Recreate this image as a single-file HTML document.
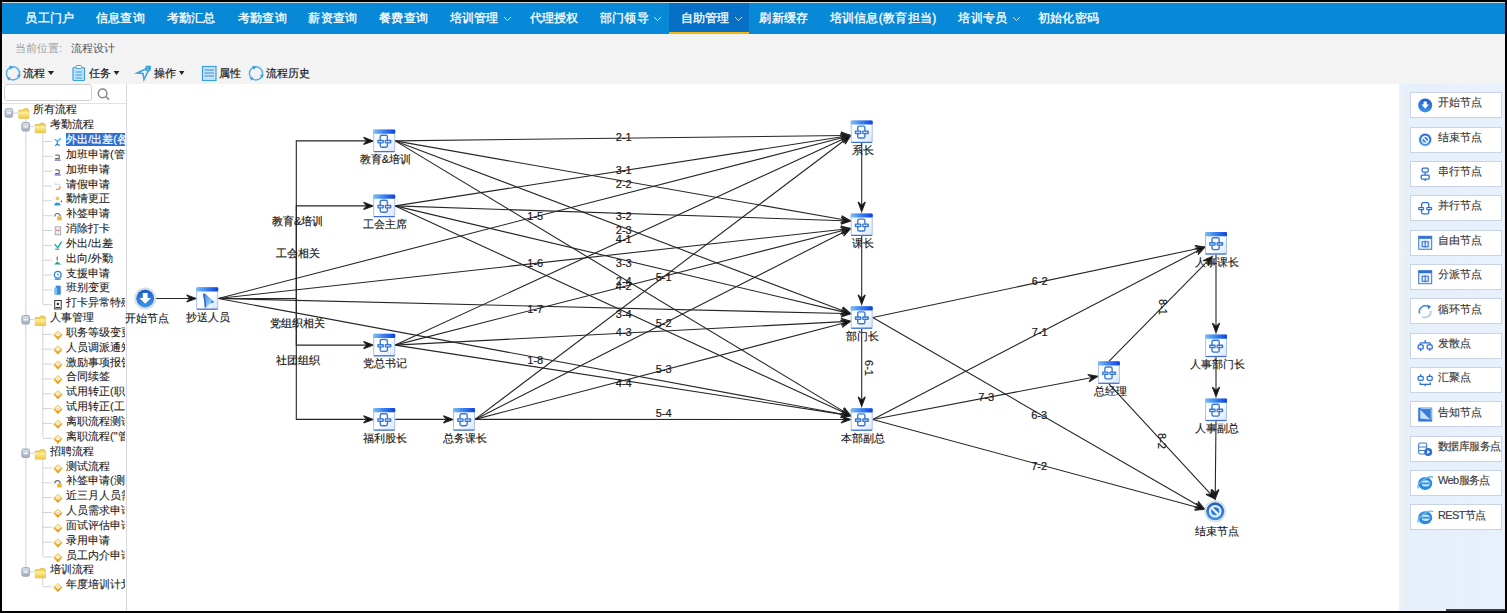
<!DOCTYPE html>
<html><head><meta charset="utf-8"><style>
*{margin:0;padding:0;box-sizing:border-box}
html,body{width:1507px;height:613px;overflow:hidden;background:#000}
body{position:relative;font-family:"Liberation Sans",sans-serif}
.abs{position:absolute}
#nav{position:absolute;left:2px;top:2px;width:1503px;height:32px;background:#0889d7;border-top:1px solid #cfdde6}
#act{position:absolute;left:669px;top:3px;width:80px;height:31px;background:#0670c6;border-bottom:2px solid #f5b80a}
.nv{position:absolute;top:11px;font-size:12px;line-height:14px;color:#fff;-webkit-text-stroke:0.3px #fff;letter-spacing:0.3px;white-space:nowrap}
.chev{position:absolute;top:15.5px}
#bar{position:absolute;left:2px;top:34px;width:1503px;height:50px;background:#f3f3f3}
.bc{position:absolute;top:42px;font-size:11px;line-height:13px;white-space:nowrap}
.tb{position:absolute;top:67px;font-size:11px;line-height:13px;color:#1a1a1a;-webkit-text-stroke:0.2px #1a1a1a;white-space:nowrap}
#tree{position:absolute;left:2px;top:84px;width:125px;height:527px;background:#fff;border-right:1px solid #d6d6e6;overflow:hidden}
#canvas{position:absolute;left:127px;top:84px;width:1272px;height:527px;background:#fff}
#pal{position:absolute;left:1399px;top:84px;width:106px;height:527px;background:linear-gradient(90deg,#eff1f5 0px,#e6f0fb 6px,#e7f1fc 100%)}
.pb{position:absolute;left:1410px;width:92px;height:26px;background:#fff;border:1px solid #c9d3e1}
.pt{position:absolute;left:1438px;font-size:11px;line-height:14px;color:#3a3a3a;-webkit-text-stroke:0.15px #3a3a3a;white-space:nowrap}
.tr{position:absolute;font-size:11px;line-height:13px;color:#222;-webkit-text-stroke:0.1px #222;white-space:nowrap;padding:0 1px}
.tr.sel{background:#2e6fd2;color:#fff;-webkit-text-stroke:0.2px #fff;width:70px;left:65.8px !important;padding-left:0.5px;height:12.5px;line-height:12.5px}
.nl{position:absolute;width:120px;text-align:center;font-size:11px;line-height:14px;color:#1a1a1a;-webkit-text-stroke:0.15px #1a1a1a;white-space:nowrap}
.el{position:absolute;width:80px;text-align:center;font-size:11px;line-height:14px;color:#1a1a1a;-webkit-text-stroke:0.2px #1a1a1a;white-space:nowrap}
.el.rot{transform:rotate(90deg)}
svg.full{position:absolute;left:0;top:0}
</style></head><body>
<div id="nav"></div>
<div id="act"></div>
<div class="nv" style="left:25.3px">员工门户</div><div class="nv" style="left:95.9px">信息查询</div><div class="nv" style="left:166.5px">考勤汇总</div><div class="nv" style="left:237.8px">考勤查询</div><div class="nv" style="left:308.4px">薪资查询</div><div class="nv" style="left:379.0px">餐费查询</div><div class="nv" style="left:449.6px">培训管理</div><svg class="chev" style="left:502.9px" width="9" height="6" viewBox="0 0 9 6"><path d="M1,1 L4.5,4.6 L8,1" fill="none" stroke="#cfe2f4" stroke-width="1"/></svg><div class="nv" style="left:529.5px">代理授权</div><div class="nv" style="left:599.7px">部门领导</div><svg class="chev" style="left:653.0px" width="9" height="6" viewBox="0 0 9 6"><path d="M1,1 L4.5,4.6 L8,1" fill="none" stroke="#cfe2f4" stroke-width="1"/></svg><div class="nv" style="left:680.6px">自助管理</div><svg class="chev" style="left:733.9px" width="9" height="6" viewBox="0 0 9 6"><path d="M1,1 L4.5,4.6 L8,1" fill="none" stroke="#cfe2f4" stroke-width="1"/></svg><div class="nv" style="left:759.4px">刷新缓存</div><div class="nv" style="left:829.5px">培训信息(教育担当)</div><div class="nv" style="left:958.4px">培训专员</div><svg class="chev" style="left:1011.7px" width="9" height="6" viewBox="0 0 9 6"><path d="M1,1 L4.5,4.6 L8,1" fill="none" stroke="#cfe2f4" stroke-width="1"/></svg><div class="nv" style="left:1037.7px">初始化密码</div>
<div id="bar"></div>
<div class="bc" style="left:14.9px;color:#a0a0a0">当前位置:</div>
<div class="bc" style="left:70.6px;color:#555">流程设计</div>

<div class="tb" style="left:22.8px">流程</div>
<div class="tb" style="left:88.6px">任务</div>
<div class="tb" style="left:153.9px">操作</div>
<div class="tb" style="left:218.9px">属性</div>
<div class="tb" style="left:266px">流程历史</div>

<div id="tree"></div>
<div id="canvas"></div>
<div id="pal"></div>
<div class="abs" style="left:4.4px;top:84.4px;width:88px;height:16.6px;border:1px solid #cfcfcf;border-radius:3px;background:#fff"></div>
<div class="abs" style="left:2px;top:103px;width:124px;height:1px;background:#e2e2e2"></div>
<div class="pb" style="top:92.1px"></div><div class="pt" style="top:95.3px">开始节点</div><div class="pb" style="top:126.5px"></div><div class="pt" style="top:129.7px">结束节点</div><div class="pb" style="top:160.8px"></div><div class="pt" style="top:164.0px">串行节点</div><div class="pb" style="top:195.2px"></div><div class="pt" style="top:198.4px">并行节点</div><div class="pb" style="top:229.5px"></div><div class="pt" style="top:232.7px">自由节点</div><div class="pb" style="top:263.9px"></div><div class="pt" style="top:267.1px">分派节点</div><div class="pb" style="top:298.3px"></div><div class="pt" style="top:301.5px">循环节点</div><div class="pb" style="top:332.6px"></div><div class="pt" style="top:335.8px">发散点</div><div class="pb" style="top:367.0px"></div><div class="pt" style="top:370.2px">汇聚点</div><div class="pb" style="top:401.3px"></div><div class="pt" style="top:404.5px">告知节点</div><div class="pb" style="top:435.7px"></div><div class="pt" style="top:438.9px;letter-spacing:-0.6px">数据库服务点</div><div class="pb" style="top:470.1px"></div><div class="pt" style="top:473.3px;letter-spacing:-0.6px">Web服务点</div><div class="pb" style="top:504.4px"></div><div class="pt" style="top:507.6px;letter-spacing:-0.6px">REST节点</div>
<div class="abs" style="left:1446px;top:609px;width:59px;height:2px;background:#3c3c44"></div>
<svg class="full" width="1507" height="613" viewBox="0 0 1507 613">
<defs>
<linearGradient id="gi" x1="0" y1="0" x2="1" y2="1"><stop offset="0" stop-color="#f4fbff"/><stop offset="0.5" stop-color="#ffffff"/><stop offset="1" stop-color="#d6e4fa"/></linearGradient>
<linearGradient id="gt" x1="0" y1="0" x2="1" y2="0"><stop offset="0" stop-color="#7cc0f6"/><stop offset="0.5" stop-color="#3a7ef0"/><stop offset="1" stop-color="#0a40e6"/></linearGradient>
<linearGradient id="gb" x1="0" y1="0" x2="0" y2="1"><stop offset="0" stop-color="#1b5fc8"/><stop offset="1" stop-color="#3d94ea"/></linearGradient>
<linearGradient id="gm2" x1="0" y1="0" x2="1" y2="1"><stop offset="0" stop-color="#3a86e6"/><stop offset="1" stop-color="#c4e6ff"/></linearGradient>
<linearGradient id="gd" x1="0" y1="0" x2="0" y2="1"><stop offset="0" stop-color="#f8d860"/><stop offset="1" stop-color="#e89010"/></linearGradient>
<linearGradient id="gm" x1="0" y1="0" x2="0" y2="1"><stop offset="0" stop-color="#dfe6ee"/><stop offset="1" stop-color="#9eacbb"/></linearGradient>
<linearGradient id="gf" x1="0" y1="0" x2="0" y2="1"><stop offset="0" stop-color="#fff2a8"/><stop offset="1" stop-color="#f0c840"/></linearGradient>
</defs>
<g stroke="#cfd3da" stroke-width="1"><line x1="25.9" y1="116.0" x2="25.9" y2="570.8"/><line x1="42.8" y1="131.6" x2="42.8" y2="303.7"/><line x1="29.5" y1="126.6" x2="34" y2="126.6"/><line x1="42.8" y1="141.5" x2="52" y2="141.5"/><line x1="42.8" y1="156.3" x2="52" y2="156.3"/><line x1="42.8" y1="171.2" x2="52" y2="171.2"/><line x1="42.8" y1="186.0" x2="52" y2="186.0"/><line x1="42.8" y1="200.8" x2="52" y2="200.8"/><line x1="42.8" y1="215.7" x2="52" y2="215.7"/><line x1="42.8" y1="230.5" x2="52" y2="230.5"/><line x1="42.8" y1="245.4" x2="52" y2="245.4"/><line x1="42.8" y1="260.2" x2="52" y2="260.2"/><line x1="42.8" y1="275.0" x2="52" y2="275.0"/><line x1="42.8" y1="289.9" x2="52" y2="289.9"/><line x1="42.8" y1="304.7" x2="52" y2="304.7"/><line x1="42.8" y1="324.6" x2="42.8" y2="437.3"/><line x1="29.5" y1="319.6" x2="34" y2="319.6"/><line x1="42.8" y1="334.4" x2="52" y2="334.4"/><line x1="42.8" y1="349.2" x2="52" y2="349.2"/><line x1="42.8" y1="364.1" x2="52" y2="364.1"/><line x1="42.8" y1="378.9" x2="52" y2="378.9"/><line x1="42.8" y1="393.8" x2="52" y2="393.8"/><line x1="42.8" y1="408.6" x2="52" y2="408.6"/><line x1="42.8" y1="423.4" x2="52" y2="423.4"/><line x1="42.8" y1="438.3" x2="52" y2="438.3"/><line x1="42.8" y1="458.1" x2="42.8" y2="556.0"/><line x1="29.5" y1="453.1" x2="34" y2="453.1"/><line x1="42.8" y1="468.0" x2="52" y2="468.0"/><line x1="42.8" y1="482.8" x2="52" y2="482.8"/><line x1="42.8" y1="497.6" x2="52" y2="497.6"/><line x1="42.8" y1="512.5" x2="52" y2="512.5"/><line x1="42.8" y1="527.3" x2="52" y2="527.3"/><line x1="42.8" y1="542.2" x2="52" y2="542.2"/><line x1="42.8" y1="557.0" x2="52" y2="557.0"/><line x1="42.8" y1="576.8" x2="42.8" y2="585.7"/><line x1="29.5" y1="571.8" x2="34" y2="571.8"/><line x1="42.8" y1="586.7" x2="52" y2="586.7"/><line x1="12.7" y1="113.0" x2="18" y2="113.0"/></g>
<g transform="translate(4.6,108.2)"><rect x="0.5" y="0.5" width="7.5" height="8.5" rx="1.5" fill="url(#gm)" stroke="#9aa6b4" stroke-width="1"/><line x1="2.2" y1="4.8" x2="6.3" y2="4.8" stroke="#fff" stroke-width="1.2"/></g><g transform="translate(18.4,107.7)"><path d="M0.5,2.5 h4 l1.2,-1.5 h3.5 l0.8,1.5 v0 h0.5 v8 h-10 z" fill="#f2d35a" stroke="#d9b13a" stroke-width="0.7"/><rect x="0.5" y="4" width="10" height="6.5" fill="url(#gf)"/></g><g transform="translate(21.4,122.0)"><rect x="0.5" y="0.5" width="7.5" height="8.5" rx="1.5" fill="url(#gm)" stroke="#9aa6b4" stroke-width="1"/><line x1="2.2" y1="4.8" x2="6.3" y2="4.8" stroke="#fff" stroke-width="1.2"/></g><g transform="translate(34.8,122.1)"><path d="M0.5,2.5 h4 l1.2,-1.5 h3.5 l0.8,1.5 v0 h0.5 v8 h-10 z" fill="#f2d35a" stroke="#d9b13a" stroke-width="0.7"/><rect x="0.5" y="4" width="10" height="6.5" fill="url(#gf)"/></g><g transform="translate(53.2,136.3)"><path d="M1.5,3 l3,2 l3,-3" stroke="#40b8d8" stroke-width="1.3" fill="none"/><path d="M4,5 v4 M2,9.5 l2,-2 l2.5,2" stroke="#2a80c0" stroke-width="1.1" fill="none"/></g><g transform="translate(53.2,151.1)"><path d="M2,4 h4 v3.5 h-4" stroke="#555" stroke-width="1" fill="none"/><path d="M1.5,9 h6" stroke="#7a6ad0" stroke-width="1.3"/></g><g transform="translate(53.2,166.0)"><path d="M2,4 h4 v3.5 h-4" stroke="#555" stroke-width="1" fill="none"/><path d="M1.5,9 h6" stroke="#7a6ad0" stroke-width="1.3"/></g><g transform="translate(53.2,180.8)"><path d="M2,3 l1.5,1 M5,3 l1.5,1" stroke="#7ab8e0" stroke-width="1"/><path d="M3,8.5 C6,9 7.5,7.5 6.5,5.5" stroke="#f08a20" stroke-width="1.3" fill="none"/></g><g transform="translate(53.2,195.6)"><circle cx="4.2" cy="2.8" r="1.8" fill="#f0c060"/><path d="M1,9.8 C1,6 7.4,6 7.4,9.8 Z" fill="#2a9ad8"/><path d="M7,6 l2,-1.5 l-0.5,2.5 z" fill="#e04040"/></g><g transform="translate(53.2,210.5)"><path d="M1.5,6 C1.5,2 7,2 7,6" stroke="#666" stroke-width="1.1" fill="none"/><rect x="4" y="6" width="4.5" height="3.8" fill="#f0b030"/></g><g transform="translate(53.2,225.3)"><rect x="2" y="1.5" width="5.5" height="8" fill="#eee" stroke="#999" stroke-width="0.8"/><path d="M3,5 h3.5" stroke="#e06080" stroke-width="1"/></g><g transform="translate(53.2,240.2)"><path d="M1.5,4 l3,3.5 l4,-6" stroke="#20a8a0" stroke-width="1.4" fill="none"/><path d="M2,9 h4" stroke="#2a70c0" stroke-width="1"/></g><g transform="translate(53.2,255.0)"><path d="M4,1.5 v4" stroke="#555" stroke-width="1"/><path d="M1,9.5 l3,-3 l4,3 z" fill="#20a080"/></g><g transform="translate(53.2,269.8)"><circle cx="4.5" cy="5" r="3.4" fill="none" stroke="#2a80d8" stroke-width="1.3"/><path d="M4.5,3.5 v1.7 h1.4" stroke="#2a80d8" stroke-width="0.9" fill="none"/><path d="M1.5,9.5 h6" stroke="#2a80d8" stroke-width="1"/></g><g transform="translate(53.2,284.7)"><rect x="2.5" y="1" width="5" height="9" fill="#3a88d8"/><rect x="1" y="3" width="3" height="7" fill="#80c0f0"/></g><g transform="translate(53.2,299.5)"><rect x="1.5" y="1" width="6.5" height="8.5" fill="#fff" stroke="#333" stroke-width="1"/><circle cx="4.7" cy="4.5" r="1.3" fill="#333"/><path d="M2.5,8 h4.5" stroke="#333" stroke-width="1"/></g><g transform="translate(21.4,315.0)"><rect x="0.5" y="0.5" width="7.5" height="8.5" rx="1.5" fill="url(#gm)" stroke="#9aa6b4" stroke-width="1"/><line x1="2.2" y1="4.8" x2="6.3" y2="4.8" stroke="#fff" stroke-width="1.2"/></g><g transform="translate(34.8,315.1)"><path d="M0.5,2.5 h4 l1.2,-1.5 h3.5 l0.8,1.5 v0 h0.5 v8 h-10 z" fill="#f2d35a" stroke="#d9b13a" stroke-width="0.7"/><rect x="0.5" y="4" width="10" height="6.5" fill="url(#gf)"/></g><g transform="translate(53.4,330.2)"><path d="M4.5,0.3 L9.2,4.8 L4.5,9.6 L-0.2,4.8 Z" fill="url(#gd)"/><path d="M4.5,1.6 L7.2,4.3 L4.5,6.4 L1.8,4.3 Z" fill="#fffbe8"/><path d="M3.3,3.6 L5.6,3.6 L4.5,5 Z" fill="#9ec8f0"/></g><g transform="translate(53.4,345.0)"><path d="M4.5,0.3 L9.2,4.8 L4.5,9.6 L-0.2,4.8 Z" fill="url(#gd)"/><path d="M4.5,1.6 L7.2,4.3 L4.5,6.4 L1.8,4.3 Z" fill="#fffbe8"/><path d="M3.3,3.6 L5.6,3.6 L4.5,5 Z" fill="#9ec8f0"/></g><g transform="translate(53.4,359.9)"><path d="M4.5,0.3 L9.2,4.8 L4.5,9.6 L-0.2,4.8 Z" fill="url(#gd)"/><path d="M4.5,1.6 L7.2,4.3 L4.5,6.4 L1.8,4.3 Z" fill="#fffbe8"/><path d="M3.3,3.6 L5.6,3.6 L4.5,5 Z" fill="#9ec8f0"/></g><g transform="translate(53.4,374.7)"><path d="M4.5,0.3 L9.2,4.8 L4.5,9.6 L-0.2,4.8 Z" fill="url(#gd)"/><path d="M4.5,1.6 L7.2,4.3 L4.5,6.4 L1.8,4.3 Z" fill="#fffbe8"/><path d="M3.3,3.6 L5.6,3.6 L4.5,5 Z" fill="#9ec8f0"/></g><g transform="translate(53.4,389.6)"><path d="M4.5,0.3 L9.2,4.8 L4.5,9.6 L-0.2,4.8 Z" fill="url(#gd)"/><path d="M4.5,1.6 L7.2,4.3 L4.5,6.4 L1.8,4.3 Z" fill="#fffbe8"/><path d="M3.3,3.6 L5.6,3.6 L4.5,5 Z" fill="#9ec8f0"/></g><g transform="translate(53.4,404.4)"><path d="M4.5,0.3 L9.2,4.8 L4.5,9.6 L-0.2,4.8 Z" fill="url(#gd)"/><path d="M4.5,1.6 L7.2,4.3 L4.5,6.4 L1.8,4.3 Z" fill="#fffbe8"/><path d="M3.3,3.6 L5.6,3.6 L4.5,5 Z" fill="#9ec8f0"/></g><g transform="translate(53.4,419.2)"><path d="M4.5,0.3 L9.2,4.8 L4.5,9.6 L-0.2,4.8 Z" fill="url(#gd)"/><path d="M4.5,1.6 L7.2,4.3 L4.5,6.4 L1.8,4.3 Z" fill="#fffbe8"/><path d="M3.3,3.6 L5.6,3.6 L4.5,5 Z" fill="#9ec8f0"/></g><g transform="translate(53.4,434.1)"><path d="M4.5,0.3 L9.2,4.8 L4.5,9.6 L-0.2,4.8 Z" fill="url(#gd)"/><path d="M4.5,1.6 L7.2,4.3 L4.5,6.4 L1.8,4.3 Z" fill="#fffbe8"/><path d="M3.3,3.6 L5.6,3.6 L4.5,5 Z" fill="#9ec8f0"/></g><g transform="translate(21.4,448.5)"><rect x="0.5" y="0.5" width="7.5" height="8.5" rx="1.5" fill="url(#gm)" stroke="#9aa6b4" stroke-width="1"/><line x1="2.2" y1="4.8" x2="6.3" y2="4.8" stroke="#fff" stroke-width="1.2"/></g><g transform="translate(34.8,448.6)"><path d="M0.5,2.5 h4 l1.2,-1.5 h3.5 l0.8,1.5 v0 h0.5 v8 h-10 z" fill="#f2d35a" stroke="#d9b13a" stroke-width="0.7"/><rect x="0.5" y="4" width="10" height="6.5" fill="url(#gf)"/></g><g transform="translate(53.4,463.8)"><path d="M4.5,0.3 L9.2,4.8 L4.5,9.6 L-0.2,4.8 Z" fill="url(#gd)"/><path d="M4.5,1.6 L7.2,4.3 L4.5,6.4 L1.8,4.3 Z" fill="#fffbe8"/><path d="M3.3,3.6 L5.6,3.6 L4.5,5 Z" fill="#9ec8f0"/></g><g transform="translate(53.2,477.6)"><path d="M1.5,6 C1.5,2 7,2 7,6" stroke="#666" stroke-width="1.1" fill="none"/><rect x="4" y="6" width="4.5" height="3.8" fill="#f0b030"/></g><g transform="translate(53.4,493.4)"><path d="M4.5,0.3 L9.2,4.8 L4.5,9.6 L-0.2,4.8 Z" fill="url(#gd)"/><path d="M4.5,1.6 L7.2,4.3 L4.5,6.4 L1.8,4.3 Z" fill="#fffbe8"/><path d="M3.3,3.6 L5.6,3.6 L4.5,5 Z" fill="#9ec8f0"/></g><g transform="translate(53.4,508.3)"><path d="M4.5,0.3 L9.2,4.8 L4.5,9.6 L-0.2,4.8 Z" fill="url(#gd)"/><path d="M4.5,1.6 L7.2,4.3 L4.5,6.4 L1.8,4.3 Z" fill="#fffbe8"/><path d="M3.3,3.6 L5.6,3.6 L4.5,5 Z" fill="#9ec8f0"/></g><g transform="translate(53.4,523.1)"><path d="M4.5,0.3 L9.2,4.8 L4.5,9.6 L-0.2,4.8 Z" fill="url(#gd)"/><path d="M4.5,1.6 L7.2,4.3 L4.5,6.4 L1.8,4.3 Z" fill="#fffbe8"/><path d="M3.3,3.6 L5.6,3.6 L4.5,5 Z" fill="#9ec8f0"/></g><g transform="translate(53.4,538.0)"><path d="M4.5,0.3 L9.2,4.8 L4.5,9.6 L-0.2,4.8 Z" fill="url(#gd)"/><path d="M4.5,1.6 L7.2,4.3 L4.5,6.4 L1.8,4.3 Z" fill="#fffbe8"/><path d="M3.3,3.6 L5.6,3.6 L4.5,5 Z" fill="#9ec8f0"/></g><g transform="translate(53.4,552.8)"><path d="M4.5,0.3 L9.2,4.8 L4.5,9.6 L-0.2,4.8 Z" fill="url(#gd)"/><path d="M4.5,1.6 L7.2,4.3 L4.5,6.4 L1.8,4.3 Z" fill="#fffbe8"/><path d="M3.3,3.6 L5.6,3.6 L4.5,5 Z" fill="#9ec8f0"/></g><g transform="translate(21.4,567.2)"><rect x="0.5" y="0.5" width="7.5" height="8.5" rx="1.5" fill="url(#gm)" stroke="#9aa6b4" stroke-width="1"/><line x1="2.2" y1="4.8" x2="6.3" y2="4.8" stroke="#fff" stroke-width="1.2"/></g><g transform="translate(34.8,567.3)"><path d="M0.5,2.5 h4 l1.2,-1.5 h3.5 l0.8,1.5 v0 h0.5 v8 h-10 z" fill="#f2d35a" stroke="#d9b13a" stroke-width="0.7"/><rect x="0.5" y="4" width="10" height="6.5" fill="url(#gf)"/></g><g transform="translate(53.4,582.5)"><path d="M4.5,0.3 L9.2,4.8 L4.5,9.6 L-0.2,4.8 Z" fill="url(#gd)"/><path d="M4.5,1.6 L7.2,4.3 L4.5,6.4 L1.8,4.3 Z" fill="#fffbe8"/><path d="M3.3,3.6 L5.6,3.6 L4.5,5 Z" fill="#9ec8f0"/></g>
<g stroke="#262626" stroke-width="1.1" fill="#111"><line x1="155.70" y1="298.50" x2="189.20" y2="298.50"/><polygon points="196.20,298.50 186.60,294.90 189.40,297.90 189.40,299.10 186.60,302.10"/><line x1="218.20" y1="298.50" x2="843.92" y2="137.21"/><polygon points="850.70,135.47 840.51,134.38 843.97,136.58 844.26,137.74 842.30,141.35"/><line x1="218.20" y1="298.50" x2="843.74" y2="229.24"/><polygon points="850.70,228.47 840.76,225.95 843.88,228.62 844.01,229.81 841.55,233.10"/><line x1="218.20" y1="298.50" x2="843.70" y2="313.56"/><polygon points="850.70,313.73 841.19,309.90 843.92,312.97 843.89,314.17 841.02,317.10"/><line x1="218.20" y1="298.50" x2="843.82" y2="414.46"/><polygon points="850.70,415.73 841.92,410.44 844.12,413.90 843.90,415.08 840.60,417.52"/><line x1="395.20" y1="140.90" x2="843.70" y2="135.55"/><polygon points="850.70,135.47 841.06,131.98 843.89,134.95 843.91,136.15 841.14,139.18"/><line x1="395.20" y1="140.90" x2="843.81" y2="219.72"/><polygon points="850.70,220.93 841.87,215.73 844.11,219.17 843.90,220.35 840.62,222.82"/><line x1="395.20" y1="140.90" x2="844.16" y2="311.25"/><polygon points="850.70,313.73 843.00,306.96 844.56,310.76 844.13,311.88 840.45,313.69"/><line x1="395.20" y1="140.90" x2="844.71" y2="412.12"/><polygon points="850.70,415.73 844.34,407.69 845.19,411.71 844.57,412.73 840.62,413.86"/><line x1="395.20" y1="205.90" x2="843.78" y2="136.54"/><polygon points="850.70,135.47 840.66,133.38 843.89,135.91 844.07,137.10 841.76,140.49"/><line x1="395.20" y1="205.90" x2="843.70" y2="220.70"/><polygon points="850.70,220.93 841.22,217.02 843.92,220.11 843.88,221.31 840.99,224.21"/><line x1="395.20" y1="205.90" x2="843.89" y2="312.12"/><polygon points="850.70,313.73 842.19,308.02 844.22,311.58 843.94,312.75 840.53,315.02"/><line x1="395.20" y1="205.90" x2="844.34" y2="412.80"/><polygon points="850.70,415.73 843.49,408.45 844.77,412.34 844.27,413.43 840.47,414.99"/><line x1="395.20" y1="345.10" x2="844.34" y2="138.39"/><polygon points="850.70,135.47 840.47,136.21 844.27,137.76 844.77,138.85 843.48,142.75"/><line x1="395.20" y1="345.10" x2="843.92" y2="230.20"/><polygon points="850.70,228.47 840.51,227.36 843.96,229.57 844.26,230.73 842.29,234.34"/><line x1="395.20" y1="345.10" x2="843.71" y2="321.63"/><polygon points="850.70,321.27 840.93,318.17 843.88,321.02 843.94,322.22 841.30,325.36"/><line x1="395.20" y1="345.10" x2="843.78" y2="414.66"/><polygon points="850.70,415.73 841.77,410.70 844.07,414.10 843.89,415.28 840.66,417.82"/><line x1="395.20" y1="419.40" x2="446.00" y2="419.40"/><polygon points="453.00,419.40 443.40,415.80 446.20,418.80 446.20,420.00 443.40,423.00"/><line x1="475.00" y1="419.40" x2="845.12" y2="139.69"/><polygon points="850.70,135.47 840.87,138.38 844.91,139.09 845.64,140.05 845.21,144.13"/><line x1="475.00" y1="419.40" x2="844.46" y2="231.64"/><polygon points="850.70,228.47 840.51,229.61 844.37,231.01 844.91,232.08 843.77,236.03"/><line x1="475.00" y1="419.40" x2="843.93" y2="323.04"/><polygon points="850.70,321.27 840.50,320.21 843.97,322.40 844.27,323.57 842.32,327.18"/><line x1="475.00" y1="419.40" x2="843.70" y2="419.50"/><polygon points="850.70,419.50 841.10,415.90 843.90,418.90 843.90,420.10 841.10,423.10"/><line x1="861.70" y1="143.00" x2="861.70" y2="204.60"/><polygon points="861.70,211.60 865.30,202.00 862.30,204.80 861.10,204.80 858.10,202.00"/><line x1="861.70" y1="236.00" x2="861.70" y2="297.40"/><polygon points="861.70,304.40 865.30,294.80 862.30,297.60 861.10,297.60 858.10,294.80"/><line x1="861.70" y1="328.80" x2="861.70" y2="399.40"/><polygon points="861.70,406.40 865.30,396.80 862.30,399.60 861.10,399.60 858.10,396.80"/><line x1="872.70" y1="317.50" x2="1198.15" y2="248.52"/><polygon points="1205.00,247.07 1194.86,245.54 1198.22,247.89 1198.47,249.06 1196.36,252.58"/><line x1="872.70" y1="317.50" x2="1198.64" y2="505.80"/><polygon points="1204.70,509.30 1198.19,501.38 1199.11,505.38 1198.51,506.42 1194.59,507.61"/><line x1="872.70" y1="419.50" x2="1198.79" y2="250.29"/><polygon points="1205.00,247.07 1194.82,248.29 1198.69,249.67 1199.24,250.73 1198.14,254.68"/><line x1="872.70" y1="419.50" x2="1197.94" y2="507.47"/><polygon points="1204.70,509.30 1196.37,503.32 1198.29,506.95 1197.98,508.10 1194.49,510.27"/><line x1="872.70" y1="419.50" x2="1091.02" y2="377.68"/><polygon points="1097.90,376.37 1087.79,374.64 1091.11,377.06 1091.33,378.24 1089.15,381.71"/><line x1="1108.90" y1="361.30" x2="1207.42" y2="261.38"/><polygon points="1212.33,256.40 1203.03,260.71 1207.13,260.82 1207.99,261.66 1208.16,265.76"/><line x1="1108.90" y1="383.90" x2="1210.45" y2="493.86"/><polygon points="1215.20,499.00 1211.33,489.51 1211.03,493.60 1210.15,494.41 1206.04,494.39"/><line x1="1216.00" y1="254.60" x2="1216.00" y2="325.70"/><polygon points="1216.00,332.70 1219.60,323.10 1216.60,325.90 1215.40,325.90 1212.40,323.10"/><line x1="1216.00" y1="357.10" x2="1216.00" y2="389.70"/><polygon points="1216.00,396.70 1219.60,387.10 1216.60,389.90 1215.40,389.90 1212.40,387.10"/><line x1="1216.00" y1="421.10" x2="1215.27" y2="492.00"/><polygon points="1215.20,499.00 1218.90,489.44 1215.87,492.21 1214.67,492.19 1211.70,489.36"/><polyline fill="none" points="218.20,298.50 296.30,298.50 296.30,140.90 366.20,140.90"/><polygon points="373.20,140.90 363.60,137.30 366.40,140.30 366.40,141.50 363.60,144.50"/><polyline fill="none" points="218.20,298.50 296.30,298.50 296.30,205.90 366.20,205.90"/><polygon points="373.20,205.90 363.60,202.30 366.40,205.30 366.40,206.50 363.60,209.50"/><polyline fill="none" points="218.20,298.50 296.30,298.50 296.30,345.10 366.20,345.10"/><polygon points="373.20,345.10 363.60,341.50 366.40,344.50 366.40,345.70 363.60,348.70"/><polyline fill="none" points="218.20,298.50 296.30,298.50 296.30,419.40 366.20,419.40"/><polygon points="373.20,419.40 363.60,415.80 366.40,418.80 366.40,420.00 363.60,423.00"/></g>
<g transform="translate(145.20,298.50)"><circle r="11" fill="#d9dddf"/><circle r="9.6" fill="#f4f6f6"/><circle r="9" fill="url(#gb)"/><path d="M-2.4,-5.6 h4.8 v5.2 h3.4 l-5.8,5.6 l-5.8,-5.6 h3.4 z" fill="#fff"/></g><g transform="translate(196.20,287.20)"><rect x="0.5" y="0.5" width="21" height="21.6" rx="1" fill="url(#gi)" stroke="#a9c2ec" stroke-width="1"/><rect x="0" y="0" width="22" height="4.2" rx="1" fill="url(#gt)"/><rect x="0.5" y="21.4" width="21" height="1.2" fill="#3f6fd6"/><path d="M6.8,6.8 C7.6,6 8.6,6 9.4,6.8 L17.8,14.6 L16.6,15.6 C14,16.2 11.5,18 10,20.4 L8.6,20.2 C8.4,15.5 7.6,11 6.8,6.8 Z" fill="url(#gm2)"/><path d="M6.8,6.8 C7.6,11 8.4,15.5 8.6,20.2 L10,20.4 C9.6,15 9,10.5 8.2,6.4 Z" fill="#2a66c8"/><path d="M14.5,13 L18.2,14.6 L15.4,16.4 Z" fill="#3f86e0"/></g><g transform="translate(373.20,129.60)"><rect x="0.5" y="0.5" width="21" height="21.6" rx="1" fill="url(#gi)" stroke="#a9c2ec" stroke-width="1"/><rect x="0" y="0" width="22" height="4.2" rx="1" fill="url(#gt)"/><rect x="0.5" y="21.4" width="21" height="1.2" fill="#3f6fd6"/><rect x="7" y="5.7" width="7.2" height="11.9" rx="1.6" fill="none" stroke="#3a78d6" stroke-width="1.4"/><rect x="4.1" y="10.1" width="6.6" height="3.7" rx="0.8" fill="#3a78d6"/><rect x="11.5" y="10.1" width="6.7" height="3.7" rx="0.8" fill="#3a78d6"/><path d="M5.5,12 h3.8 M12.8,12 h4.1" stroke="#e8f4ff" stroke-width="1.1" stroke-dasharray="1.6,0.5"/></g><g transform="translate(373.20,194.60)"><rect x="0.5" y="0.5" width="21" height="21.6" rx="1" fill="url(#gi)" stroke="#a9c2ec" stroke-width="1"/><rect x="0" y="0" width="22" height="4.2" rx="1" fill="url(#gt)"/><rect x="0.5" y="21.4" width="21" height="1.2" fill="#3f6fd6"/><rect x="7" y="5.7" width="7.2" height="11.9" rx="1.6" fill="none" stroke="#3a78d6" stroke-width="1.4"/><rect x="4.1" y="10.1" width="6.6" height="3.7" rx="0.8" fill="#3a78d6"/><rect x="11.5" y="10.1" width="6.7" height="3.7" rx="0.8" fill="#3a78d6"/><path d="M5.5,12 h3.8 M12.8,12 h4.1" stroke="#e8f4ff" stroke-width="1.1" stroke-dasharray="1.6,0.5"/></g><g transform="translate(373.20,333.80)"><rect x="0.5" y="0.5" width="21" height="21.6" rx="1" fill="url(#gi)" stroke="#a9c2ec" stroke-width="1"/><rect x="0" y="0" width="22" height="4.2" rx="1" fill="url(#gt)"/><rect x="0.5" y="21.4" width="21" height="1.2" fill="#3f6fd6"/><rect x="7" y="5.7" width="7.2" height="11.9" rx="1.6" fill="none" stroke="#3a78d6" stroke-width="1.4"/><rect x="4.1" y="10.1" width="6.6" height="3.7" rx="0.8" fill="#3a78d6"/><rect x="11.5" y="10.1" width="6.7" height="3.7" rx="0.8" fill="#3a78d6"/><path d="M5.5,12 h3.8 M12.8,12 h4.1" stroke="#e8f4ff" stroke-width="1.1" stroke-dasharray="1.6,0.5"/></g><g transform="translate(373.20,408.10)"><rect x="0.5" y="0.5" width="21" height="21.6" rx="1" fill="url(#gi)" stroke="#a9c2ec" stroke-width="1"/><rect x="0" y="0" width="22" height="4.2" rx="1" fill="url(#gt)"/><rect x="0.5" y="21.4" width="21" height="1.2" fill="#3f6fd6"/><rect x="7" y="5.7" width="7.2" height="11.9" rx="1.6" fill="none" stroke="#3a78d6" stroke-width="1.4"/><rect x="4.1" y="10.1" width="6.6" height="3.7" rx="0.8" fill="#3a78d6"/><rect x="11.5" y="10.1" width="6.7" height="3.7" rx="0.8" fill="#3a78d6"/><path d="M5.5,12 h3.8 M12.8,12 h4.1" stroke="#e8f4ff" stroke-width="1.1" stroke-dasharray="1.6,0.5"/></g><g transform="translate(453.00,408.10)"><rect x="0.5" y="0.5" width="21" height="21.6" rx="1" fill="url(#gi)" stroke="#a9c2ec" stroke-width="1"/><rect x="0" y="0" width="22" height="4.2" rx="1" fill="url(#gt)"/><rect x="0.5" y="21.4" width="21" height="1.2" fill="#3f6fd6"/><rect x="7" y="5.7" width="7.2" height="11.9" rx="1.6" fill="none" stroke="#3a78d6" stroke-width="1.4"/><rect x="4.1" y="10.1" width="6.6" height="3.7" rx="0.8" fill="#3a78d6"/><rect x="11.5" y="10.1" width="6.7" height="3.7" rx="0.8" fill="#3a78d6"/><path d="M5.5,12 h3.8 M12.8,12 h4.1" stroke="#e8f4ff" stroke-width="1.1" stroke-dasharray="1.6,0.5"/></g><g transform="translate(850.70,120.40)"><rect x="0.5" y="0.5" width="21" height="21.6" rx="1" fill="url(#gi)" stroke="#a9c2ec" stroke-width="1"/><rect x="0" y="0" width="22" height="4.2" rx="1" fill="url(#gt)"/><rect x="0.5" y="21.4" width="21" height="1.2" fill="#3f6fd6"/><rect x="7" y="5.7" width="7.2" height="11.9" rx="1.6" fill="none" stroke="#3a78d6" stroke-width="1.4"/><rect x="4.1" y="10.1" width="6.6" height="3.7" rx="0.8" fill="#3a78d6"/><rect x="11.5" y="10.1" width="6.7" height="3.7" rx="0.8" fill="#3a78d6"/><path d="M5.5,12 h3.8 M12.8,12 h4.1" stroke="#e8f4ff" stroke-width="1.1" stroke-dasharray="1.6,0.5"/></g><g transform="translate(850.70,213.40)"><rect x="0.5" y="0.5" width="21" height="21.6" rx="1" fill="url(#gi)" stroke="#a9c2ec" stroke-width="1"/><rect x="0" y="0" width="22" height="4.2" rx="1" fill="url(#gt)"/><rect x="0.5" y="21.4" width="21" height="1.2" fill="#3f6fd6"/><rect x="7" y="5.7" width="7.2" height="11.9" rx="1.6" fill="none" stroke="#3a78d6" stroke-width="1.4"/><rect x="4.1" y="10.1" width="6.6" height="3.7" rx="0.8" fill="#3a78d6"/><rect x="11.5" y="10.1" width="6.7" height="3.7" rx="0.8" fill="#3a78d6"/><path d="M5.5,12 h3.8 M12.8,12 h4.1" stroke="#e8f4ff" stroke-width="1.1" stroke-dasharray="1.6,0.5"/></g><g transform="translate(850.70,306.20)"><rect x="0.5" y="0.5" width="21" height="21.6" rx="1" fill="url(#gi)" stroke="#a9c2ec" stroke-width="1"/><rect x="0" y="0" width="22" height="4.2" rx="1" fill="url(#gt)"/><rect x="0.5" y="21.4" width="21" height="1.2" fill="#3f6fd6"/><rect x="7" y="5.7" width="7.2" height="11.9" rx="1.6" fill="none" stroke="#3a78d6" stroke-width="1.4"/><rect x="4.1" y="10.1" width="6.6" height="3.7" rx="0.8" fill="#3a78d6"/><rect x="11.5" y="10.1" width="6.7" height="3.7" rx="0.8" fill="#3a78d6"/><path d="M5.5,12 h3.8 M12.8,12 h4.1" stroke="#e8f4ff" stroke-width="1.1" stroke-dasharray="1.6,0.5"/></g><g transform="translate(850.70,408.20)"><rect x="0.5" y="0.5" width="21" height="21.6" rx="1" fill="url(#gi)" stroke="#a9c2ec" stroke-width="1"/><rect x="0" y="0" width="22" height="4.2" rx="1" fill="url(#gt)"/><rect x="0.5" y="21.4" width="21" height="1.2" fill="#3f6fd6"/><rect x="7" y="5.7" width="7.2" height="11.9" rx="1.6" fill="none" stroke="#3a78d6" stroke-width="1.4"/><rect x="4.1" y="10.1" width="6.6" height="3.7" rx="0.8" fill="#3a78d6"/><rect x="11.5" y="10.1" width="6.7" height="3.7" rx="0.8" fill="#3a78d6"/><path d="M5.5,12 h3.8 M12.8,12 h4.1" stroke="#e8f4ff" stroke-width="1.1" stroke-dasharray="1.6,0.5"/></g><g transform="translate(1097.90,361.30)"><rect x="0.5" y="0.5" width="21" height="21.6" rx="1" fill="url(#gi)" stroke="#a9c2ec" stroke-width="1"/><rect x="0" y="0" width="22" height="4.2" rx="1" fill="url(#gt)"/><rect x="0.5" y="21.4" width="21" height="1.2" fill="#3f6fd6"/><rect x="7" y="5.7" width="7.2" height="11.9" rx="1.6" fill="none" stroke="#3a78d6" stroke-width="1.4"/><rect x="4.1" y="10.1" width="6.6" height="3.7" rx="0.8" fill="#3a78d6"/><rect x="11.5" y="10.1" width="6.7" height="3.7" rx="0.8" fill="#3a78d6"/><path d="M5.5,12 h3.8 M12.8,12 h4.1" stroke="#e8f4ff" stroke-width="1.1" stroke-dasharray="1.6,0.5"/></g><g transform="translate(1205.00,232.00)"><rect x="0.5" y="0.5" width="21" height="21.6" rx="1" fill="url(#gi)" stroke="#a9c2ec" stroke-width="1"/><rect x="0" y="0" width="22" height="4.2" rx="1" fill="url(#gt)"/><rect x="0.5" y="21.4" width="21" height="1.2" fill="#3f6fd6"/><rect x="7" y="5.7" width="7.2" height="11.9" rx="1.6" fill="none" stroke="#3a78d6" stroke-width="1.4"/><rect x="4.1" y="10.1" width="6.6" height="3.7" rx="0.8" fill="#3a78d6"/><rect x="11.5" y="10.1" width="6.7" height="3.7" rx="0.8" fill="#3a78d6"/><path d="M5.5,12 h3.8 M12.8,12 h4.1" stroke="#e8f4ff" stroke-width="1.1" stroke-dasharray="1.6,0.5"/></g><g transform="translate(1205.00,334.50)"><rect x="0.5" y="0.5" width="21" height="21.6" rx="1" fill="url(#gi)" stroke="#a9c2ec" stroke-width="1"/><rect x="0" y="0" width="22" height="4.2" rx="1" fill="url(#gt)"/><rect x="0.5" y="21.4" width="21" height="1.2" fill="#3f6fd6"/><rect x="7" y="5.7" width="7.2" height="11.9" rx="1.6" fill="none" stroke="#3a78d6" stroke-width="1.4"/><rect x="4.1" y="10.1" width="6.6" height="3.7" rx="0.8" fill="#3a78d6"/><rect x="11.5" y="10.1" width="6.7" height="3.7" rx="0.8" fill="#3a78d6"/><path d="M5.5,12 h3.8 M12.8,12 h4.1" stroke="#e8f4ff" stroke-width="1.1" stroke-dasharray="1.6,0.5"/></g><g transform="translate(1205.00,398.50)"><rect x="0.5" y="0.5" width="21" height="21.6" rx="1" fill="url(#gi)" stroke="#a9c2ec" stroke-width="1"/><rect x="0" y="0" width="22" height="4.2" rx="1" fill="url(#gt)"/><rect x="0.5" y="21.4" width="21" height="1.2" fill="#3f6fd6"/><rect x="7" y="5.7" width="7.2" height="11.9" rx="1.6" fill="none" stroke="#3a78d6" stroke-width="1.4"/><rect x="4.1" y="10.1" width="6.6" height="3.7" rx="0.8" fill="#3a78d6"/><rect x="11.5" y="10.1" width="6.7" height="3.7" rx="0.8" fill="#3a78d6"/><path d="M5.5,12 h3.8 M12.8,12 h4.1" stroke="#e8f4ff" stroke-width="1.1" stroke-dasharray="1.6,0.5"/></g><g transform="translate(1215.20,511.30)"><circle r="11" fill="#d9dddf"/><circle r="9.6" fill="#f4f6f6"/><circle r="9" fill="url(#gb)"/><circle r="5.2" fill="none" stroke="#e8f0ff" stroke-width="2.2"/><line x1="-3.6" y1="-3.6" x2="3.6" y2="3.6" stroke="#e8f0ff" stroke-width="2.2"/></g>

<g fill="#222"><path d="M47.8,71 h6.3 l-3.15,4 z"/><path d="M113.6,71 h5.8 l-2.9,4 z"/><path d="M179,71 h5.4 l-2.7,4 z"/></g>
<g fill="none" stroke="#56b0ea" stroke-width="1.5"><circle cx="13" cy="73.4" r="6.6"/><circle cx="256" cy="73.4" r="6.6"/></g>
<g fill="#3a9ee0"><path d="M9.5,65.5 l4,1.6 l-3.4,2.6 z"/><path d="M20.8,74.5 l-1.6,3.8 l-2.4,-3.2 z"/><path d="M8.5,80.8 l-1.8,-3.6 l3.8,0.2 z"/>
<path d="M252.5,65.5 l4,1.6 l-3.4,2.6 z"/><path d="M263.8,74.5 l-1.6,3.8 l-2.4,-3.2 z"/><path d="M251.5,80.8 l-1.8,-3.6 l3.8,0.2 z"/></g>
<g><rect x="73" y="67.5" width="11.5" height="13" rx="1" fill="#bfe2f8" stroke="#3aa0e0" stroke-width="1.2"/><rect x="76" y="65.5" width="5.5" height="3" rx="1" fill="#fff" stroke="#3aa0e0" stroke-width="1"/>
<path d="M75.5,72 h6.5 M75.5,75 h6.5 M75.5,78 h6.5" stroke="#3aa0e0" stroke-width="1"/></g>
<g fill="none" stroke="#3aa0e0" stroke-width="1.5"><path d="M137,73 L150,67 L144,79.5 L143,73.5 Z"/><circle cx="148" cy="68.5" r="2.2"/></g>
<g><rect x="202.5" y="66.5" width="13.5" height="14" fill="#c9e4f8" stroke="#3aa0e0" stroke-width="1.2"/><path d="M204.5,70 h9.5 M204.5,73 h9.5 M204.5,76 h9.5" stroke="#3a8ad0" stroke-width="1"/></g>

<g fill="none" stroke="#888" stroke-width="1.5"><circle cx="102.6" cy="93.4" r="4.3"/><path d="M105.8,96.6 L109.2,99.8"/></g>
<g transform="translate(1425.2,105.4)"><circle r="7" fill="url(#gb)"/><path d="M-1.6,-3.8 h3.2 v3 h2.2 l-3.8,4.2 l-3.8,-4.2 h2.2 z" fill="#fff"/></g><g transform="translate(1425.2,139.8)"><circle r="7" fill="#d8e0ea"/><circle r="6" fill="url(#gb)"/><circle r="3.4" fill="none" stroke="#e8f0ff" stroke-width="1.6"/><line x1="-2.4" y1="-2.4" x2="2.4" y2="2.4" stroke="#e8f0ff" stroke-width="1.6"/></g><g transform="translate(1425.2,174.1)" fill="none" stroke="#2f6fd0" stroke-width="1.3"><rect x="-3" y="-6" width="6" height="4" rx="1"/><rect x="-4" y="1" width="8" height="4" rx="1"/><path d="M0,-2 v3 M0,5 v2"/></g><g transform="translate(1425.2,208.5)"><rect x="-3.6" y="-5.8" width="7.2" height="11.2" rx="1.5" fill="none" stroke="#2f6fd0" stroke-width="1.3"/><rect x="-7" y="-1.6" width="6" height="3.4" rx="0.8" fill="#2f6fd0"/><rect x="1" y="-1.6" width="6" height="3.4" rx="0.8" fill="#2f6fd0"/><path d="M-6,0 h4 M2,0 h4" stroke="#dff0ff" stroke-width="0.9"/></g><g transform="translate(1425.2,242.8)"><rect x="-6.5" y="-6.5" width="13" height="13" fill="#e8f0fb" stroke="#3a78d0" stroke-width="1"/><rect x="-6.5" y="-6.5" width="13" height="2.5" fill="#2f6fd0"/><path d="M-3,-1 h6 v5 h-6 z M0,-2 v7" fill="none" stroke="#2f6fd0" stroke-width="1.1"/></g><g transform="translate(1425.2,277.2)"><rect x="-6.5" y="-6.5" width="13" height="13" fill="#e8f0fb" stroke="#3a78d0" stroke-width="1"/><rect x="-6.5" y="-6.5" width="13" height="2.5" fill="#2f6fd0"/><path d="M-3,-1 h6 v5 h-6 z M0,-2 v7" fill="none" stroke="#2f6fd0" stroke-width="1.1"/></g><g transform="translate(1425.2,311.6)"><path d="M-5.5,2 A6,6 0 0 1 4,-4.5" fill="none" stroke="#4a90e0" stroke-width="1.6"/><path d="M5.5,-1 A6,6 0 0 1 -3,5.3" fill="none" stroke="#a8c8f0" stroke-width="1.6"/><path d="M2,-7 l4,2 l-3,3 z" fill="#3a80d8"/></g><g transform="translate(1425.2,345.9)" fill="none" stroke="#2f6fd0" stroke-width="1.3"><path d="M0,-6 v3 M-5,-3 h10 M-5,-3 v2 M5,-3 v2"/><rect x="-7" y="-1" width="5" height="4" rx="1"/><rect x="2" y="-1" width="5" height="4" rx="1"/><path d="M-4.5,3 v2 M4.5,3 v2"/></g><g transform="translate(1425.2,380.3)" fill="none" stroke="#2f6fd0" stroke-width="1.3"><path d="M-4.5,-6 v2 M4.5,-6 v2"/><rect x="-7" y="-4" width="5" height="4" rx="1"/><rect x="2" y="-4" width="5" height="4" rx="1"/><path d="M-5,2 v2 h10 v-2 M0,4 v2"/></g><g transform="translate(1425.2,414.6)"><rect x="-7" y="-7" width="14" height="14" fill="#3a7ad8"/><path d="M-5,-5 L5,5 L-5,4 Z" fill="#bfe0ff"/><path d="M-4,-6 L6,-6 L6,5" fill="none" stroke="#9fd0ff" stroke-width="1"/></g><g transform="translate(1425.2,449.0)"><rect x="-6.5" y="-6" width="8" height="11" rx="1.5" fill="#fff" stroke="#3a78d0" stroke-width="1.1"/><path d="M-6,-2 h7 M-6,1.5 h7" stroke="#3a78d0" stroke-width="1"/><circle cx="3" cy="3" r="4" fill="#2f6fd0"/><path d="M2,1 l3,2 l-3,2 z" fill="#fff"/></g><g transform="translate(1425.2,483.4)"><ellipse rx="7" ry="6.5" fill="#2a8ae0"/><ellipse cx="0.5" rx="4" ry="3.2" fill="#bfe6ff"/><rect x="-3" y="-0.8" width="7" height="1.6" fill="#2a8ae0"/><path d="M-7,5 C-9,1 2,-9 8,-6" fill="none" stroke="#6ab8f0" stroke-width="1.3"/></g><g transform="translate(1425.2,517.7)"><ellipse rx="7" ry="6.5" fill="#2a8ae0"/><ellipse cx="0.5" rx="4" ry="3.2" fill="#bfe6ff"/><rect x="-3" y="-0.8" width="7" height="1.6" fill="#2a8ae0"/><path d="M-7,5 C-9,1 2,-9 8,-6" fill="none" stroke="#6ab8f0" stroke-width="1.3"/></g>
</svg>
<div style="position:absolute;left:0;top:0;width:125px;height:613px;overflow:hidden"><div class="tr" style="left:31.8px;top:102.5px">所有流程</div><div class="tr" style="left:49px;top:118.1px">考勤流程</div><div class="tr sel" style="left:65px;top:133.0px">外出/出差(各部门)</div><div class="tr" style="left:65px;top:147.8px">加班申请(管理)</div><div class="tr" style="left:65px;top:162.7px">加班申请</div><div class="tr" style="left:65px;top:177.5px">请假申请</div><div class="tr" style="left:65px;top:192.3px">勤情更正</div><div class="tr" style="left:65px;top:207.2px">补签申请</div><div class="tr" style="left:65px;top:222.0px">消除打卡</div><div class="tr" style="left:65px;top:236.9px">外出/出差</div><div class="tr" style="left:65px;top:251.7px">出向/外勤</div><div class="tr" style="left:65px;top:266.5px">支援申请</div><div class="tr" style="left:65px;top:281.4px">班别变更</div><div class="tr" style="left:65px;top:296.2px">打卡异常特殊</div><div class="tr" style="left:49px;top:311.1px">人事管理</div><div class="tr" style="left:65px;top:325.9px">职务等级变更</div><div class="tr" style="left:65px;top:340.7px">人员调派通知</div><div class="tr" style="left:65px;top:355.6px">激励事项报告</div><div class="tr" style="left:65px;top:370.4px">合同续签</div><div class="tr" style="left:65px;top:385.3px">试用转正(职员)</div><div class="tr" style="left:65px;top:400.1px">试用转正(工人)</div><div class="tr" style="left:65px;top:414.9px">离职流程测试</div><div class="tr" style="left:65px;top:429.8px">离职流程("管理</div><div class="tr" style="left:49px;top:444.6px">招聘流程</div><div class="tr" style="left:65px;top:459.5px">测试流程</div><div class="tr" style="left:65px;top:474.3px">补签申请(测试)</div><div class="tr" style="left:65px;top:489.1px">近三月人员需求</div><div class="tr" style="left:65px;top:504.0px">人员需求申请</div><div class="tr" style="left:65px;top:518.8px">面试评估申请</div><div class="tr" style="left:65px;top:533.7px">录用申请</div><div class="tr" style="left:65px;top:548.5px">员工内介申请</div><div class="tr" style="left:49px;top:563.3px">培训流程</div><div class="tr" style="left:65px;top:578.2px">年度培训计划</div></div>
<div class="nl" style="left:87.2px;top:311.0px">开始节点</div><div class="nl" style="left:148.4px;top:309.8px">抄送人员</div><div class="nl" style="left:325.4px;top:152.2px">教育&amp;培训</div><div class="nl" style="left:325.4px;top:217.2px">工会主席</div><div class="nl" style="left:325.4px;top:356.4px">党总书记</div><div class="nl" style="left:325.4px;top:430.7px">福利股长</div><div class="nl" style="left:405.2px;top:430.7px">总务课长</div><div class="nl" style="left:802.9px;top:143.0px">系长</div><div class="nl" style="left:802.9px;top:236.0px">课长</div><div class="nl" style="left:802.9px;top:328.8px">部门长</div><div class="nl" style="left:802.9px;top:430.8px">本部副总</div><div class="nl" style="left:1050.1px;top:383.9px">总经理</div><div class="nl" style="left:1157.2px;top:254.6px">人事课长</div><div class="nl" style="left:1157.2px;top:357.1px">人事部门长</div><div class="nl" style="left:1157.2px;top:421.1px">人事副总</div><div class="nl" style="left:1157.2px;top:523.8px">结束节点</div>
<div class="el" style="left:495.3px;top:209.1px">1-5</div><div class="el" style="left:495.3px;top:255.6px">1-6</div><div class="el" style="left:495.3px;top:302.0px">1-7</div><div class="el" style="left:495.3px;top:353.0px">1-8</div><div class="el" style="left:583.8px;top:130.3px">2-1</div><div class="el" style="left:583.8px;top:176.8px">2-2</div><div class="el" style="left:583.8px;top:223.2px">2-3</div><div class="el" style="left:583.8px;top:274.2px">2-4</div><div class="el" style="left:583.8px;top:162.8px">3-1</div><div class="el" style="left:583.8px;top:209.3px">3-2</div><div class="el" style="left:583.8px;top:255.7px">3-3</div><div class="el" style="left:583.8px;top:306.7px">3-4</div><div class="el" style="left:583.8px;top:232.4px">4-1</div><div class="el" style="left:583.8px;top:278.9px">4-2</div><div class="el" style="left:583.8px;top:325.3px">4-3</div><div class="el" style="left:583.8px;top:376.3px">4-4</div><div class="el" style="left:623.6px;top:269.5px">5-1</div><div class="el" style="left:623.6px;top:316.0px">5-2</div><div class="el" style="left:623.6px;top:362.4px">5-3</div><div class="el" style="left:623.6px;top:405.9px">5-4</div><div class="el rot" style="left:828.7px;top:360.5px">6-1</div><div class="el" style="left:999.6px;top:274.4px">6-2</div><div class="el" style="left:999.2px;top:408.4px">6-3</div><div class="el" style="left:999.6px;top:325.4px">7-1</div><div class="el" style="left:999.2px;top:459.4px">7-2</div><div class="el" style="left:946.1px;top:390.1px">7-3</div><div class="el rot" style="left:1122.5px;top:300.0px">8-1</div><div class="el rot" style="left:1122.1px;top:434.0px">8-2</div><div class="el" style="left:257.6px;top:213.7px">教育&amp;培训</div><div class="el" style="left:257.6px;top:246.2px">工会相关</div><div class="el" style="left:257.6px;top:315.8px">党组织相关</div><div class="el" style="left:257.6px;top:352.9px">社团组织</div>
</body></html>
